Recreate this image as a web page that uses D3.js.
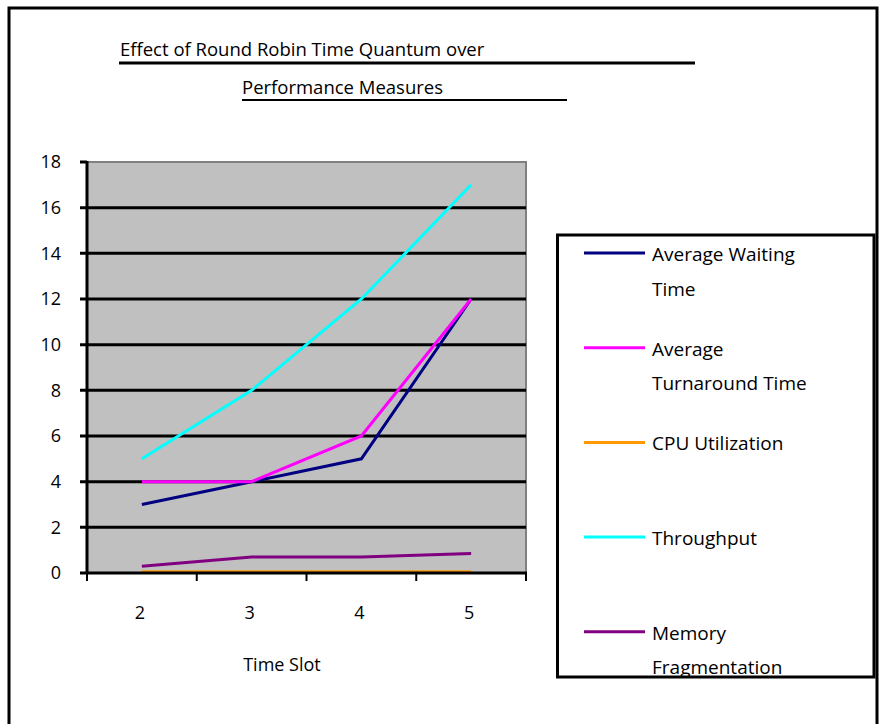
<!DOCTYPE html>
<html>
<head>
<meta charset="utf-8">
<script src="https://cdnjs.cloudflare.com/ajax/libs/d3/7.8.5/d3.min.js"></script>
<style>
  body { margin: 0; background: #fff; }
  text { font-family: "Open Sans", sans-serif; fill: #000; }
</style>
</head>
<body>
<div id="chart"></div>
<script>
// data
var timeSlots = ["2", "3", "4", "5"];
var avgWaiting = [3, 4, 5, 12];
var avgTurnaround = [4, 4, 6, 12];
var cpuUtil = [0.05, 0.05, 0.05, 0.05];
var throughput = [5, 8, 12, 17];
var memFrag = [0.3, 0.7, 0.7, 0.85];
var seriesNames = ["Average Waiting Time", "Average Turnaround Time", "CPU Utilization", "Throughput", "Memory Fragmentation"];
var legendLines = [["Average Waiting", "Time"], ["Average", "Turnaround Time"], ["CPU Utilization"], ["Throughput"], ["Memory", "Fragmentation"]];
var yTicks = [0, 2, 4, 6, 8, 10, 12, 14, 16, 18];

var series = [avgWaiting, avgTurnaround, cpuUtil, throughput, memFrag];
var colors = ["#000080", "#ff00ff", "#ff9900", "#00ffff", "#800080"];

var W = 882, H = 724;
var svg = d3.select("#chart").append("svg")
    .attr("width", W)
    .attr("height", H);

// outer frame
svg.append("rect")
    .attr("x", 9).attr("y", 8)
    .attr("width", 868).attr("height", 740)
    .attr("fill", "none")
    .attr("stroke", "#000")
    .attr("stroke-width", 3);

// title
svg.append("text").attr("x", 120).attr("y", 56)
    .style("font-size", "18.5px")
    .text("Effect of Round Robin Time Quantum over");
svg.append("line").attr("x1", 119).attr("x2", 695).attr("y1", 63).attr("y2", 63)
    .attr("stroke", "#000").attr("stroke-width", 3);
svg.append("text").attr("x", 242).attr("y", 94)
    .style("font-size", "18.5px")
    .text("Performance Measures");
svg.append("line").attr("x1", 242).attr("x2", 567).attr("y1", 100).attr("y2", 100)
    .attr("stroke", "#000").attr("stroke-width", 2);

// scales
var x = d3.scaleBand().domain(timeSlots).range([87, 526]).padding(0);
var y = d3.scaleLinear().domain([0, 18]).range([573, 162]);

// plot background
svg.append("rect")
    .attr("x", 87).attr("y", 162)
    .attr("width", 526 - 87).attr("height", 573 - 162)
    .attr("fill", "#c0c0c0")
    .attr("stroke", "#808080")
    .attr("stroke-width", 2);

// gridlines + y ticks
svg.append("g").selectAll("line")
  .data(yTicks.filter(function(d){ return d > 0 && d < 18; }))
  .enter().append("line")
    .attr("x1", 80).attr("x2", 526)
    .attr("y1", function(d){ return y(d); })
    .attr("y2", function(d){ return y(d); })
    .attr("stroke", "#000").attr("stroke-width", 3);

svg.append("line").attr("x1", 80).attr("x2", 87).attr("y1", y(18)).attr("y2", y(18))
    .attr("stroke", "#000").attr("stroke-width", 3);

// y tick labels
svg.append("g").selectAll("text")
  .data(yTicks)
  .enter().append("text")
    .attr("x", 61)
    .attr("y", function(d){ return y(d); })
    .attr("dy", "0.36em")
    .attr("text-anchor", "end")
    .style("font-size", "18px")
    .text(function(d){ return d; });

// left axis
svg.append("line").attr("x1", 87).attr("x2", 87).attr("y1", 161).attr("y2", 574)
    .attr("stroke", "#000").attr("stroke-width", 3);

// series
var line = d3.line()
    .x(function(d, i){ return x(timeSlots[i]) + x.bandwidth() / 2; })
    .y(function(d){ return y(d); });

svg.append("g").selectAll("path")
  .data(series)
  .enter().append("path")
    .attr("d", function(d){ return line(d); })
    .attr("fill", "none")
    .attr("stroke", function(d, i){ return colors[i]; })
    .attr("stroke-width", 3)
    .attr("stroke-linejoin", "miter");

// x axis on top
svg.append("line").attr("x1", 80).attr("x2", 527).attr("y1", 573).attr("y2", 573)
    .attr("stroke", "#000").attr("stroke-width", 3);
var xEdges = timeSlots.map(function(d){ return x(d); }).concat([x.range()[1]]);
svg.append("g").selectAll("line")
  .data(xEdges)
  .enter().append("line")
    .attr("x1", function(d){ return d; })
    .attr("x2", function(d){ return d; })
    .attr("y1", 573).attr("y2", 581)
    .attr("stroke", "#000").attr("stroke-width", 2);

svg.append("g").selectAll("text")
  .data(timeSlots)
  .enter().append("text")
    .attr("x", function(d){ return x(d) + x.bandwidth() / 2 - 2; })
    .attr("y", 613)
    .attr("dy", "0.36em")
    .attr("text-anchor", "middle")
    .style("font-size", "18px")
    .text(function(d){ return d; });

svg.append("text")
    .attr("x", 282).attr("y", 665)
    .attr("dy", "0.36em")
    .attr("text-anchor", "middle")
    .style("font-size", "18px")
    .text("Time Slot");

// legend
svg.append("clipPath").attr("id", "legclip")
  .append("rect").attr("x", 557).attr("y", 235).attr("width", 317).attr("height", 441);

var legend = svg.append("g");
legend.append("rect")
    .attr("x", 557.5).attr("y", 235)
    .attr("width", 316.5).attr("height", 442)
    .attr("fill", "#fff")
    .attr("stroke", "#000")
    .attr("stroke-width", 3);

var legendInner = legend.append("g").attr("clip-path", "url(#legclip)");

var items = legendInner.selectAll("g.item")
  .data(seriesNames)
  .enter().append("g")
    .attr("class", "item")
    .attr("transform", function(d, i){ return "translate(0," + (253 + i * 94.7) + ")"; });

items.append("line")
    .attr("x1", 584).attr("x2", 645)
    .attr("y1", 0).attr("y2", 0)
    .attr("stroke", function(d, i){ return colors[i]; })
    .attr("stroke-width", 3);

items.each(function(d, i) {
  d3.select(this).selectAll("text")
    .data(legendLines[i])
    .enter().append("text")
      .attr("x", 652)
      .attr("y", function(t, j){ return 8 + j * 34.5; })
      .style("font-size", "19px")
      .text(function(t){ return t; });
});
</script>
</body>
</html>
